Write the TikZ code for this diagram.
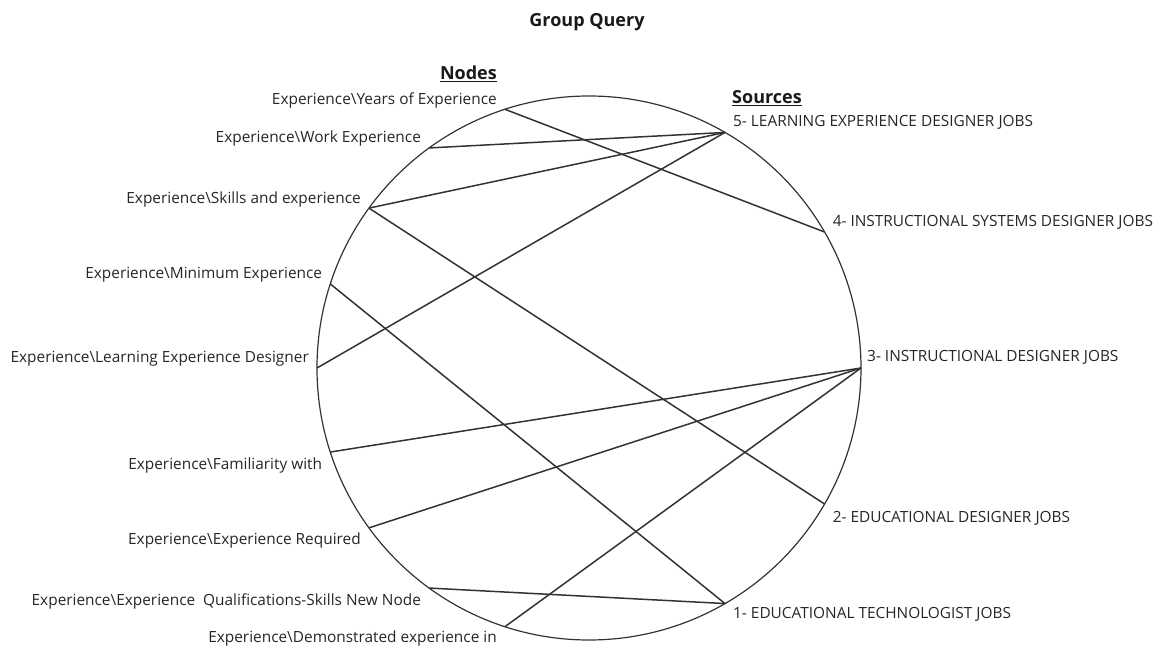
\documentclass[tikz,border=0pt]{standalone}
\usepackage{fontspec}
\setmainfont{Open Sans}
\usetikzlibrary{positioning}

\begin{document}
\begin{tikzpicture}[
				x=1pt,y=1pt,
				nodelabel/.style={font=\fontsize{15.4}{18}\selectfont,text=black!85,inner sep=0pt},
				heading/.style={font=\fontsize{18}{20}\selectfont\bfseries,text=black!90,inner sep=0pt},
				link/.style={draw=black!80,line width=1.5pt}
				]
				\useasboundingbox (-589,-283) rectangle (579,368);
				
				\node[heading] (title) at (-2,346) {Group Query};
				\node[circle,draw=black!80,line width=1.2pt,minimum size=544pt,inner sep=0pt,outer sep=0pt] (wheel) at (0,0) {};
				\node[heading,anchor=east] (nodeshead) at (-92,294) {\underline{Nodes}};
				\node[heading,anchor=west] (sourceshead) at (143,270) {\underline{Sources}};
				
				% Punti sul cerchio
				\coordinate (years) at (wheel.108);
				\coordinate (work) at (wheel.126);
				\coordinate (skills) at (wheel.144);
				\coordinate (minimum) at (wheel.162);
				\coordinate (learning) at (wheel.180);
				\coordinate (familiarity) at (wheel.198);
				\coordinate (required) at (wheel.216);
				\coordinate (qualif) at (wheel.234);
				\coordinate (demonstrated) at (wheel.252);
				\coordinate (ledjobs) at (wheel.60);
				\coordinate (isdjobs) at (wheel.30);
				\coordinate (idjobs) at (wheel.0);
				\coordinate (edjobs) at (wheel.-30);
				\coordinate (etjobs) at (wheel.-60);
				
				\node[nodelabel,left=8pt of years,yshift=9pt] (yearslbl) {Experience\textbackslash Years of Experience};
				\node[nodelabel,left=8pt of work,yshift=9pt] (worklbl) {Experience\textbackslash Work Experience};
				\node[nodelabel,left=8pt of skills,yshift=9pt] (skillslbl) {Experience\textbackslash Skills and experience};
				\node[nodelabel,left=8pt of minimum,yshift=9pt] (minimumlbl) {Experience\textbackslash Minimum Experience};
				\node[nodelabel,left=8pt of learning,yshift=9pt] (learninglbl) {Experience\textbackslash Learning Experience Designer};
				\node[nodelabel,left=8pt of familiarity,yshift=-13pt] (familiaritylbl) {Experience\textbackslash Familiarity with};
				\node[nodelabel,left=8pt of required,yshift=-13pt] (requiredlbl) {Experience\textbackslash Experience Required};
				\node[nodelabel,left=8pt of qualif,yshift=-13pt] (qualiflbl) {Experience\textbackslash Experience\ \ Qualifications-Skills New Node};
				\node[nodelabel,left=8pt of demonstrated,yshift=-12pt] (demonstratedlbl) {Experience\textbackslash Demonstrated experience in};
				
				\node[nodelabel,right=8pt of ledjobs,yshift=10pt] (ledlbl) {5- LEARNING EXPERIENCE DESIGNER JOBS};
				\node[nodelabel,right=8pt of isdjobs,yshift=10pt] (isdlbl) {4- INSTRUCTIONAL SYSTEMS DESIGNER JOBS};
				\node[nodelabel,right=6pt of idjobs,yshift=11pt] (idlbl) {3- INSTRUCTIONAL DESIGNER JOBS};
				\node[nodelabel,right=8pt of edjobs,yshift=-14pt] (edlbl) {2- EDUCATIONAL DESIGNER JOBS};
				\node[nodelabel,right=8pt of etjobs,yshift=-11pt] (etlbl) {1- EDUCATIONAL TECHNOLOGIST JOBS};
				
				% Collegamenti
				\draw[link] (years) -- (isdjobs);
				\draw[link] (work) -- (ledjobs);
				\draw[link] (skills) -- (ledjobs);
				\draw[link] (skills) -- (edjobs);
				\draw[link] (minimum) -- (etjobs);
				\draw[link] (learning) -- (ledjobs);
				\draw[link] (familiarity) -- (idjobs);
				\draw[link] (required) -- (idjobs);
				\draw[link] (qualif) -- (etjobs);
				\draw[link] (demonstrated) -- (idjobs);
				
			\end{tikzpicture}
\end{document}
